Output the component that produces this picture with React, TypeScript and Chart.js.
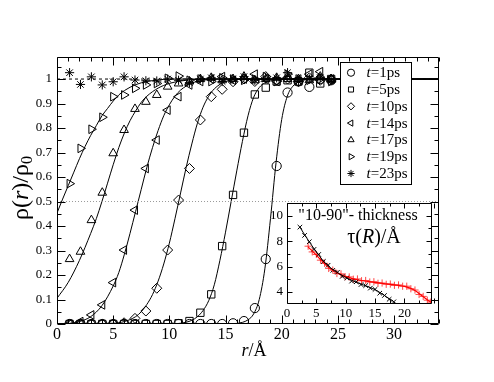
import React, { useEffect, useRef } from 'react';
import { Chart, registerables } from 'chart.js';
import { drawPoint } from 'chart.js/helpers';

Chart.register(...registerables);

const FAMILY = "'Liberation Serif', 'Times New Roman', serif";

// ---------- main plot data ----------
const rGrid = [1.12, 2.09, 3.06, 4.03, 5.0, 5.97, 6.94, 7.91, 8.88, 9.85, 10.82, 11.79, 12.76, 13.73, 14.7, 15.67, 16.64, 17.61, 18.58, 19.55, 20.52, 21.49, 22.46, 23.43, 24.4];

const rho_t1 = [0, 0, 0, 0, 0, 0, 0, 0, 0, 0, 0, 0, 0, 0, 0, 0.003, 0.012, 0.065, 0.265, 0.645, 0.945, 0.99, 0.968, 1.0, 0.995];
const rho_t5 = [0, 0, 0, 0, 0, 0, 0, 0, 0, 0, 0.003, 0.012, 0.046, 0.121, 0.318, 0.527, 0.781, 0.937, 0.965, 0.99, 0.995, 0.99, 1.026, 0.982, 1.0];
const rho_t10 = [0, 0, 0, 0, 0, 0.005, 0.023, 0.053, 0.146, 0.302, 0.506, 0.635, 0.833, 0.928, 0.958, 0.989, 1.0, 0.99, 1.01, 0.995, 1.0, 0.99, 1.005, 0.995, 1.0];
const rho_t14 = [0, 0.01, 0.037, 0.078, 0.169, 0.302, 0.465, 0.635, 0.751, 0.873, 0.928, 0.976, 0.99, 1.0, 1.01, 0.995, 1.0, 1.02, 1.0, 0.99, 1.005, 1.0, 1.02, 1.03, 1.0];
const rho_t17 = [0.265, 0.295, 0.424, 0.536, 0.697, 0.792, 0.878, 0.907, 0.935, 0.969, 0.982, 0.99, 1.0, 1.005, 0.995, 1.0, 1.01, 0.995, 1.0, 1.005, 1.0, 1.0, 0.995, 1.01, 1.0];
const rho_t19 = [0.573, 0.717, 0.795, 0.844, 0.928, 0.935, 0.962, 0.976, 0.982, 1.003, 1.012, 0.995, 1.0, 0.99, 1.005, 1.0, 0.995, 1.0, 1.01, 0.99, 1.02, 1.0, 0.995, 1.0, 0.99];
const rho_t23 = [1.026, 0.978, 1.009, 0.976, 0.989, 1.009, 0.996, 0.993, 0.992, 1.0, 0.995, 0.985, 1.0, 1.005, 0.99, 1.0, 1.01, 0.995, 1.0, 1.005, 1.026, 0.99, 1.0, 1.005, 0.995];

const seriesLabels = ['1ps', '5ps', '10ps', '14ps', '17ps', '19ps', '23ps'];

// fitted profiles
const fit1R = [0, 15, 16, 17, 17.5, 18, 18.5, 19, 19.5, 20, 20.5, 21, 22, 23, 34];
const fit1V = [0, 0.0004, 0.0025, 0.017, 0.041, 0.1, 0.225, 0.43, 0.66, 0.835, 0.93, 0.971, 0.996, 1.0, 1.0];
const fit5R = [0, 10, 11, 12, 12.5, 13, 13.5, 14, 14.5, 15, 15.5, 16, 16.5, 17, 17.5, 18, 18.5, 19, 20, 34];
const fit5V = [0, 0, 0.003, 0.015, 0.03, 0.055, 0.095, 0.16, 0.26, 0.375, 0.5, 0.625, 0.745, 0.85, 0.925, 0.965, 0.985, 0.995, 1.0, 1.0];
const fit10R = [0, 5, 6, 7, 7.5, 8, 8.5, 9, 9.5, 10, 10.5, 11, 11.5, 12, 12.5, 13, 13.5, 14, 15, 16, 17, 34];
const fit10V = [0, 0.003, 0.01, 0.03, 0.05, 0.08, 0.12, 0.175, 0.245, 0.33, 0.43, 0.535, 0.64, 0.735, 0.82, 0.885, 0.93, 0.96, 0.99, 0.998, 1.0, 1.0];
const fit14R = [0, 1, 2, 3, 4, 5, 5.5, 6, 6.5, 7, 7.5, 8, 8.5, 9, 9.5, 10, 10.5, 11, 12, 13, 14, 34];
const fit14V = [0, 0.002, 0.01, 0.03, 0.075, 0.155, 0.21, 0.285, 0.37, 0.46, 0.55, 0.64, 0.72, 0.79, 0.85, 0.895, 0.93, 0.955, 0.983, 0.995, 1.0, 1.0];
const fit17R = [0, 1, 2, 3, 3.5, 4, 4.5, 5, 5.5, 6, 6.5, 7, 7.5, 8, 9, 10, 11, 12, 13, 34];
const fit17V = [0.105, 0.17, 0.26, 0.37, 0.43, 0.5, 0.575, 0.65, 0.72, 0.78, 0.83, 0.87, 0.905, 0.93, 0.963, 0.982, 0.992, 0.997, 1.0, 1.0];
const fit19R = [0, 0.5, 1, 1.5, 2, 2.5, 3, 3.5, 4, 4.5, 5, 5.5, 6, 7, 8, 9, 10, 34];
const fit19V = [0.453, 0.51, 0.565, 0.62, 0.675, 0.725, 0.77, 0.81, 0.85, 0.88, 0.91, 0.935, 0.953, 0.977, 0.99, 0.996, 1.0, 1.0];

const refLineR = [0, 34];
const halfLineV = [0.5, 0.5];
const unityLineV = [1, 1];

// ---------- inset data ----------
const blackR = [2.2, 3.0, 3.8, 4.6, 5.4, 6.2, 7.0, 7.8, 8.6, 9.4, 10.2, 11.0, 11.8, 12.6, 13.4, 14.2, 15.0, 15.8, 16.6, 17.4, 18.2];
const blackTau = [9.1, 8.45, 7.95, 7.35, 6.95, 6.4, 6.1, 5.7, 5.55, 5.22, 5.1, 4.85, 4.8, 4.58, 4.5, 4.3, 4.2, 3.9, 3.72, 3.42, 3.22];
const blackFitR = [2.2, 3, 4, 5, 6, 7, 8, 9, 10, 11, 12, 13, 14, 15, 16, 17, 18, 18.6];
const blackFitTau = [9.1, 8.5, 7.8, 7.15, 6.55, 6.05, 5.7, 5.4, 5.15, 4.92, 4.72, 4.55, 4.37, 4.18, 3.9, 3.6, 3.28, 3.07];
const redR = [3.6, 4.3, 5.0, 5.7, 6.4, 7.1, 7.8, 8.5, 9.2, 9.9, 10.6, 11.3, 12.0, 12.7, 13.4, 14.1, 14.8, 15.5, 16.2, 16.9, 17.6, 18.3, 19.0, 19.7, 20.4, 21.1, 21.8, 22.5, 23.2, 23.9, 24.5];
const redTau = [7.6, 7.15, 6.95, 6.5, 6.25, 5.85, 5.72, 5.45, 5.42, 5.2, 5.18, 5.0, 5.02, 4.88, 4.9, 4.78, 4.8, 4.68, 4.7, 4.6, 4.62, 4.52, 4.55, 4.45, 4.45, 4.25, 4.15, 3.8, 3.65, 3.35, 3.2];
const redFitR = [3.6, 5, 6, 7, 8, 9, 10, 11, 12, 13, 14, 15, 16, 17, 18, 19, 20, 21, 22, 23, 24, 24.7];
const redFitTau = [7.55, 6.9, 6.4, 5.95, 5.63, 5.4, 5.22, 5.07, 4.96, 4.88, 4.81, 4.75, 4.69, 4.64, 4.58, 4.52, 4.44, 4.3, 4.05, 3.7, 3.35, 3.15];

type Part = { t: string; italic?: boolean; size: number; dy?: number };

function fontOf(p: Part) {
  return `${p.italic ? 'italic ' : ''}${p.size}px ${FAMILY}`;
}

function drawRich(ctx: CanvasRenderingContext2D, parts: Part[], x: number, y: number, align: 'left' | 'center') {
  ctx.textAlign = 'left';
  const widths = parts.map((p) => {
    ctx.font = fontOf(p);
    return ctx.measureText(p.t).width;
  });
  const total = widths.reduce((a, b) => a + b, 0);
  let cx = align === 'center' ? x - total / 2 : x;
  parts.forEach((p, i) => {
    ctx.font = fontOf(p);
    ctx.fillText(p.t, cx, y + (p.dy || 0));
    cx += widths[i];
  });
}

function pts(xs: number[], ys: number[]) {
  return xs.map((x, i) => ({ x, y: ys[i] }));
}

function makeFramePlugin(cfg: { xMajor: number; xMinor: number; yMajor: number; yMinor: number; maj: number; min: number; white?: boolean }) {
  return {
    id: 'frame' + Math.random(),
    beforeDatasetsDraw(chart: any) {
      if (!cfg.white) return;
      const a = chart.chartArea;
      const ctx = chart.ctx;
      ctx.save();
      ctx.fillStyle = '#fff';
      ctx.fillRect(a.left, a.top, a.right - a.left, a.bottom - a.top);
      ctx.restore();
    },
    afterDatasetsDraw(chart: any) {
      const a = chart.chartArea;
      const ctx = chart.ctx;
      const sx = chart.scales.x;
      const sy = chart.scales.y;
      ctx.save();
      ctx.strokeStyle = '#000';
      ctx.lineWidth = 1;
      ctx.beginPath();
      const L = Math.round(a.left) + 0.5, R = Math.round(a.right) - 0.5;
      const T = Math.round(a.top) + 0.5, B = Math.round(a.bottom) - 0.5;
      ctx.rect(L, T, R - L, B - T);
      const eps = 1e-6;
      const nX = Math.round((sx.max - sx.min) / cfg.xMinor);
      for (let i = 0; i <= nX; i++) {
        const v = sx.min + i * cfg.xMinor;
        const isMaj = Math.abs(v / cfg.xMajor - Math.round(v / cfg.xMajor)) < eps;
        const len = isMaj ? cfg.maj : cfg.min;
        const px = Math.round(sx.getPixelForValue(v)) + 0.5;
        ctx.moveTo(px, B); ctx.lineTo(px, B - len);
        ctx.moveTo(px, T); ctx.lineTo(px, T + len);
      }
      const startY = Math.ceil(sy.min / cfg.yMinor - eps) * cfg.yMinor;
      for (let v = startY; v <= sy.max + eps; v += cfg.yMinor) {
        const isMaj = Math.abs(v / cfg.yMajor - Math.round(v / cfg.yMajor)) < 1e-4;
        const len = isMaj ? cfg.maj : cfg.min;
        const py = Math.round(sy.getPixelForValue(v)) + 0.5;
        ctx.moveTo(L, py); ctx.lineTo(L + len, py);
        ctx.moveTo(R, py); ctx.lineTo(R - len, py);
      }
      ctx.stroke();
      ctx.restore();
    },
  };
}

const legendStyles = [
  { style: 'circle', rot: 0 },
  { style: 'rect', rot: 0 },
  { style: 'rectRot', rot: 0 },
  { style: 'triangle', rot: -90 },
  { style: 'triangle', rot: 0 },
  { style: 'triangle', rot: 90 },
  { style: 'star', rot: 0 },
];

const mainDecor = {
  id: 'mainDecor',
  afterDraw(chart: any) {
    const ctx = chart.ctx as CanvasRenderingContext2D;
    ctx.save();
    ctx.fillStyle = '#000';
    ctx.textBaseline = 'alphabetic';
    // x title
    drawRich(ctx, [{ t: 'r', italic: true, size: 18 }, { t: '/Å', size: 18 }], 254, 356, 'center');
    // y title
    ctx.save();
    ctx.translate(28, 188);
    ctx.rotate(-Math.PI / 2);
    drawRich(ctx, [
      { t: 'ρ(', size: 24 },
      { t: 'r', italic: true, size: 24 },
      { t: ')/ρ', size: 24 },
      { t: '0', size: 16, dy: 4 },
    ], 0, 0, 'center');
    ctx.restore();
    // legend
    const bx = 340.5, by = 62.5, bw = 71, bh = 122;
    ctx.fillStyle = '#fff';
    ctx.fillRect(bx, by, bw, bh);
    ctx.strokeStyle = '#000';
    ctx.lineWidth = 1;
    ctx.strokeRect(bx, by, bw, bh);
    ctx.textBaseline = 'middle';
    seriesLabels.forEach((lab, i) => {
      const y = 72.7 + i * 16.8;
      ctx.strokeStyle = '#000';
      ctx.fillStyle = 'rgba(0,0,0,0)';
      ctx.lineWidth = 1;
      const st = legendStyles[i];
      drawPoint(ctx, { pointStyle: st.style, rotation: st.rot, radius: 3.6, borderWidth: 1 } as any, 351, y);
      ctx.fillStyle = '#000';
      drawRich(ctx, [{ t: 't', italic: true, size: 15 }, { t: '=' + lab, size: 15 }], 366.5, y + 0.5, 'left');
    });
    ctx.restore();
  },
};

const insetDecor = {
  id: 'insetDecor',
  afterDraw(chart: any) {
    const ctx = chart.ctx as CanvasRenderingContext2D;
    ctx.save();
    ctx.fillStyle = '#000';
    ctx.textBaseline = 'alphabetic';
    drawRich(ctx, [{ t: '"10-90"- thickness', size: 16 }], 108, 30, 'center');
    drawRich(ctx, [
      { t: 'τ(', size: 20 },
      { t: 'R', italic: true, size: 20 },
      { t: ')/Å', size: 20 },
    ], 124, 53, 'center');
    ctx.restore();
  },
};

export default function App() {
  const mainRef = useRef<HTMLCanvasElement>(null);
  const insetRef = useRef<HTMLCanvasElement>(null);

  useEffect(() => {
    const tickFont = (size: number) => ({ family: FAMILY, size });
    const fits = [
      [fit1R, fit1V], [fit5R, fit5V], [fit10R, fit10V], [fit14R, fit14V], [fit17R, fit17V], [fit19R, fit19V],
    ];
    const series = [rho_t1, rho_t5, rho_t10, rho_t14, rho_t17, rho_t19, rho_t23];
    const radii = [4.6, 5.2, 5, 5, 5, 5, 4.6];

    const datasets: any[] = [
      { data: pts(refLineR, halfLineV), showLine: true, borderColor: '#9a9a9a', borderDash: [1, 2], borderWidth: 1, pointRadius: 0 },
      { data: pts(refLineR, unityLineV), showLine: true, borderColor: '#000', borderDash: [3, 3], borderWidth: 1, pointRadius: 0 },
      ...fits.map(([r, v]) => ({
        data: pts(r, v), showLine: true, borderColor: '#000', borderWidth: 1, pointRadius: 0,
        cubicInterpolationMode: 'monotone',
      })),
      ...series.map((v, i) => ({
        label: 't=' + seriesLabels[i],
        data: pts(rGrid, v), showLine: false,
        pointStyle: legendStyles[i].style, pointRotation: legendStyles[i].rot,
        pointRadius: radii[i], pointBorderColor: '#000', pointBackgroundColor: 'rgba(0,0,0,0)',
        pointBorderWidth: 1,
      })),
    ];

    const main = new Chart(mainRef.current!, {
      type: 'scatter',
      data: { datasets },
      options: {
        animation: false, responsive: false, devicePixelRatio: 1, events: [],
        layout: { padding: { left: 0, top: 57, right: 55, bottom: 0 } },
        plugins: { legend: { display: false }, tooltip: { enabled: false } },
        scales: {
          x: {
            type: 'linear', min: 0, max: 34, position: 'bottom',
            grid: { display: false, drawTicks: false }, border: { display: false },
            ticks: { stepSize: 5, includeBounds: false, padding: 1, color: '#000', font: tickFont(16), maxRotation: 0, autoSkip: false, callback: (v: any) => String(v) },
            afterFit: (s: any) => { s.height = 58; },
          },
          y: {
            type: 'linear', min: 0, max: 1.09, position: 'left',
            grid: { display: false, drawTicks: false }, border: { display: false },
            ticks: { stepSize: 0.1, includeBounds: false, padding: 5, color: '#000', font: tickFont(13), autoSkip: false, callback: (v: any) => String(Math.round(v * 10) / 10) },
            afterFit: (s: any) => { s.width = 57; },
          },
        },
      } as any,
      plugins: [makeFramePlugin({ xMajor: 5, xMinor: 1, yMajor: 0.1, yMinor: 0.05, maj: 8, min: 4 }), mainDecor],
    });

    const insetDatasets: any[] = [
      { data: pts(blackFitR, blackFitTau), showLine: true, borderColor: '#000', borderWidth: 1, pointRadius: 0, cubicInterpolationMode: 'monotone' },
      { data: pts(redFitR, redFitTau), showLine: true, borderColor: '#ff0000', borderWidth: 1.2, pointRadius: 0, cubicInterpolationMode: 'monotone' },
      { data: pts(blackR, blackTau), showLine: false, pointStyle: 'crossRot', pointRadius: 3.2, pointBorderColor: '#000', pointBorderWidth: 1 },
      { data: pts(redR, redTau), showLine: false, pointStyle: 'cross', pointRadius: 3.6, pointBorderColor: 'rgba(255,40,40,0.85)', pointBorderWidth: 1 },
    ];

    const inset = new Chart(insetRef.current!, {
      type: 'scatter',
      data: { datasets: insetDatasets },
      options: {
        animation: false, responsive: false, devicePixelRatio: 1, events: [],
        layout: { padding: { left: 0, top: 13, right: 7, bottom: 0 } },
        plugins: { legend: { display: false }, tooltip: { enabled: false } },
        scales: {
          x: {
            type: 'linear', min: 0, max: 24.7, position: 'bottom',
            grid: { display: false, drawTicks: false }, border: { display: false },
            ticks: { stepSize: 5, includeBounds: false, padding: 2, color: '#000', font: tickFont(13), maxRotation: 0, autoSkip: false, callback: (v: any) => String(v) },
            afterFit: (s: any) => { s.height = 46; },
          },
          y: {
            type: 'linear', min: 3.05, max: 11, position: 'left',
            grid: { display: false, drawTicks: false }, border: { display: false },
            ticks: { stepSize: 2, includeBounds: false, padding: 4, color: '#000', font: tickFont(13), autoSkip: false, callback: (v: any) => String(v) },
            afterFit: (s: any) => { s.width = 37; },
          },
        },
      } as any,
      plugins: [makeFramePlugin({ xMajor: 5, xMinor: 2.5, yMajor: 2, yMinor: 1, maj: 5, min: 3, white: true }), insetDecor],
    });

    return () => {
      main.destroy();
      inset.destroy();
    };
  }, []);

  return (
    <div style={{ position: 'fixed', left: 0, top: 0, width: 494, height: 382, background: '#fff' }}>
      <canvas ref={mainRef} width={494} height={382} style={{ position: 'absolute', left: 0, top: 0, width: 494, height: 382 }} />
      <canvas ref={insetRef} width={189} height={160} style={{ position: 'absolute', left: 250, top: 190, width: 189, height: 160 }} />
    </div>
  );
}
